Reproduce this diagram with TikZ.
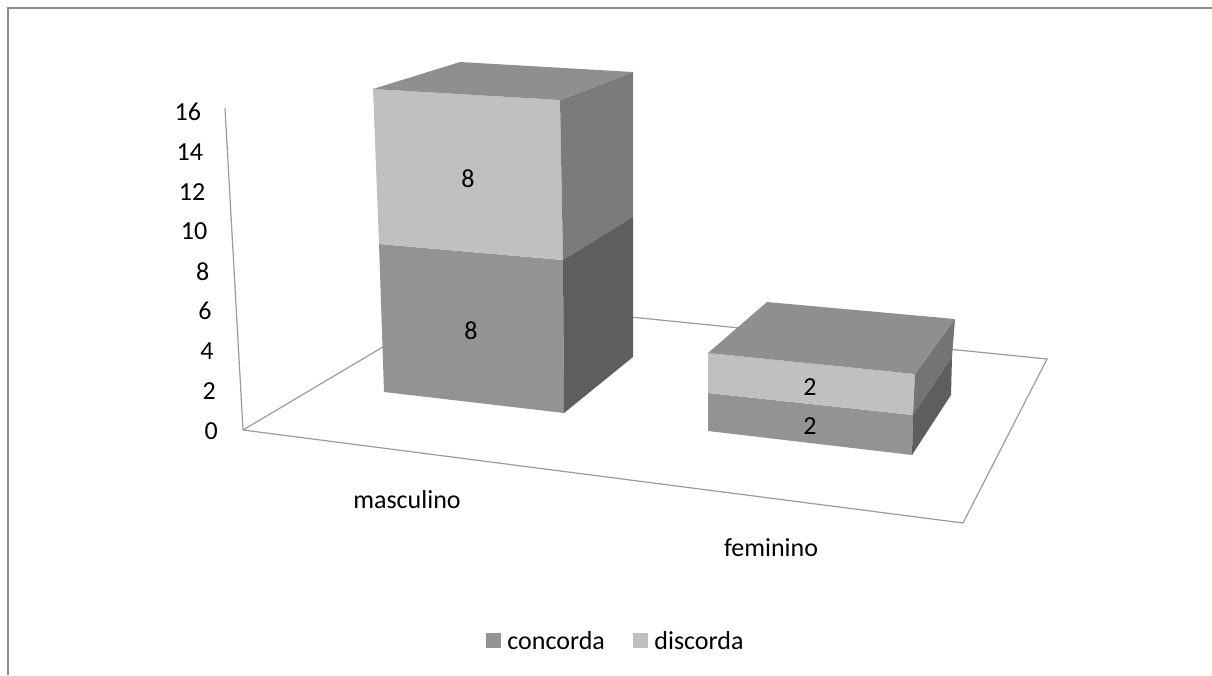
\documentclass[tikz,border=0pt]{standalone}
\usepackage{fontspec}
\setmainfont{Carlito}
\usetikzlibrary{positioning}
\definecolor{framegray}{RGB}{140,140,140}
\definecolor{axisgray}{RGB}{155,155,155}
\definecolor{concfront}{RGB}{147,147,147}
\definecolor{discfront}{RGB}{192,192,192}
\definecolor{topface}{RGB}{143,143,143}
\definecolor{discside}{RGB}{123,123,123}
\definecolor{concside}{RGB}{94,94,94}
\newcommand{\drawFace}[2]{\fill[#1] #2 -- cycle;}
\tikzset{
    chartframe/.style={draw=framegray,line width=2pt},
    axisline/.style={draw=axisgray,line width=1.2pt},
    ticklabel/.style={anchor=east,inner sep=0pt,font=\fontsize{26}{30}\selectfont},
    catlabel/.style={inner sep=0pt,font=\fontsize{26}{30}\selectfont},
    vallabel/.style={inner sep=0pt,font=\fontsize{26}{30}\selectfont},
    legendbox/.style={minimum size=15pt,inner sep=0pt},
    legendtext/.style={inner sep=0pt,anchor=west,font=\fontsize{26}{30}\selectfont}}

\begin{document}
\begin{tikzpicture}[x=1pt,y=-1pt]
\useasboundingbox (0,0) rectangle (1212,675);
\draw[chartframe] (8,675) -- (8,8) -- (1212,8);

% floor and wall
\coordinate (origin)    at (243,430);
\coordinate (axistop)   at (225,108);
\coordinate (backleft)  at (462,300);
\coordinate (backright) at (1047,359);
\coordinate (frontright) at (963,523);
\draw[axisline] (axistop) -- (origin);
\draw[axisline] (origin) -- (backleft) -- (backright) -- (frontright) -- (origin);

\foreach \v [count=\i from 0] in {0,2,...,16}
    \node[ticklabel] (tick\v) at (218-2.1*\i,431-39.9*\i) {\v};

% masculino
\drawFace{concfront}{(379,244) -- (563,260) -- (564,413) -- (384,392)}
\drawFace{discfront}{(373,89) -- (560,100) -- (563,260) -- (379,244)}
\drawFace{discside}{(560,100) -- (633,72) -- (633,217) -- (563,260)}
\drawFace{concside}{(563,260) -- (633,217) -- (633,357) -- (564,413)}
\drawFace{topface}{(373,89) -- (460,62) -- (633,72) -- (560,100)}

% feminino
\drawFace{concfront}{(708,393) -- (913,415) -- (912,455) -- (708,431)}
\drawFace{discfront}{(708,353) -- (915,374) -- (913,415) -- (708,393)}
\drawFace{discside!105}{(915,374) -- (955,319) -- (952,357) -- (913,415)}
\drawFace{concside}{(913,415) -- (952,357) -- (951,395) -- (912,455)}
\drawFace{topface}{(708,353) -- (767,302) -- (955,319) -- (915,374)}

\node[vallabel] (mascDisc) at (468,179) {8};
\node[vallabel] (mascConc) at (471,331) {8};
\node[vallabel] (femDisc)  at (810,387) {2};
\node[vallabel] (femConc)  at (810,426) {2};

\node[catlabel] (masc) at (407,500) {masculino};
\node[catlabel] (fem)  at (771,548) {feminino};

% legend
\node[legendbox,fill=concfront] (concSq) at (493.5,640.5) {};
\node[legendtext,right=6pt of concSq] (concTxt) {concorda};
\node[legendbox,fill=discfront] (discSq) at (640.5,640.5) {};
\node[legendtext,right=6pt of discSq] (discTxt) {discorda};
\end{tikzpicture}
\end{document}
